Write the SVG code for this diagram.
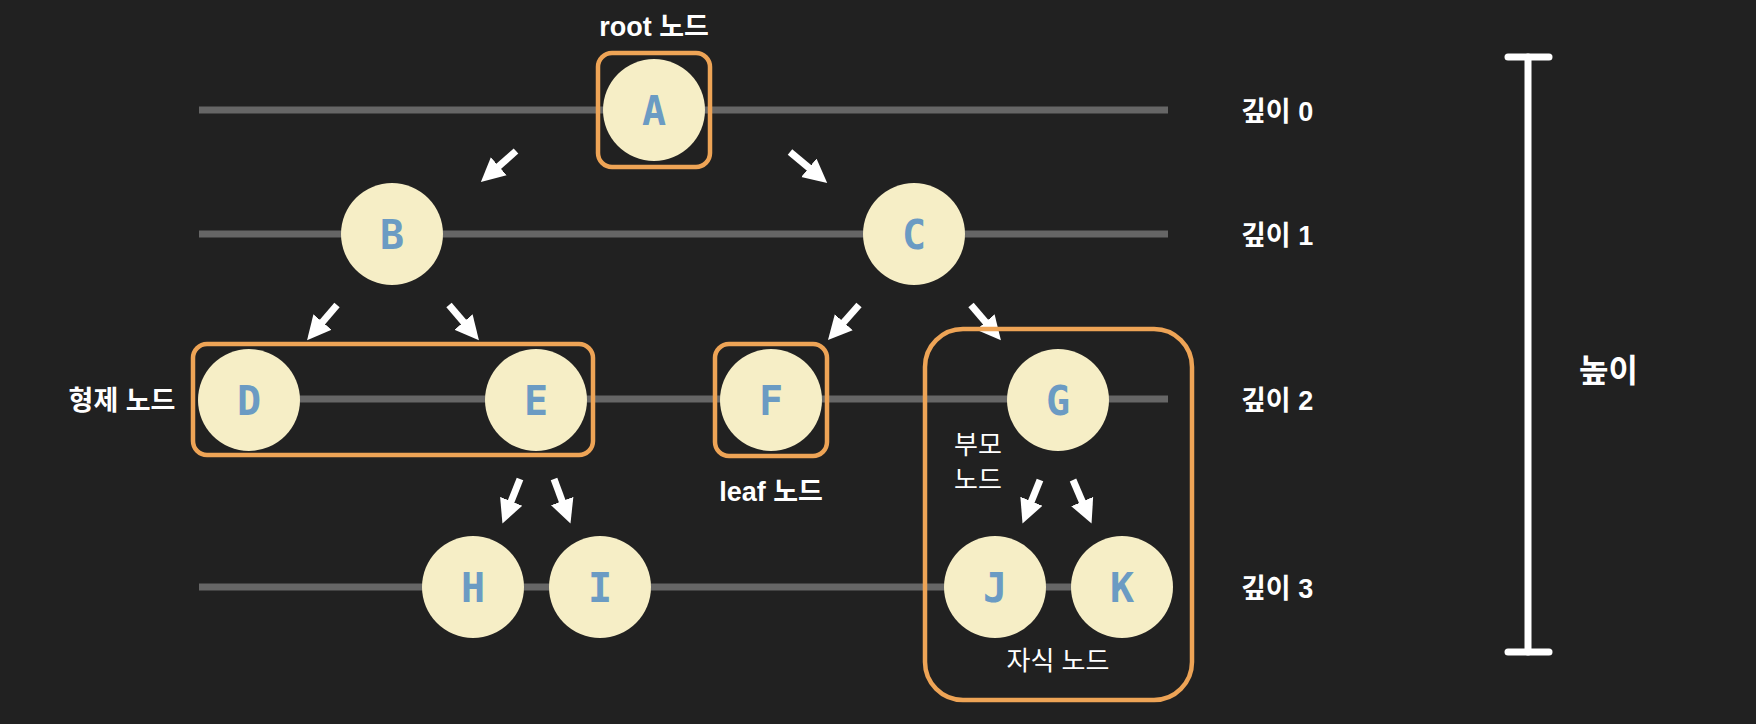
<svg xmlns="http://www.w3.org/2000/svg" width="1756" height="724" viewBox="0 0 1756 724">
<style>
.bg{fill:#212121}
.lvl{stroke:#666;stroke-width:7}
.nd{fill:#f6eec6}
.lt{font-family:"DejaVu Sans Mono","Liberation Mono",monospace;font-weight:bold;font-size:40px;fill:#6b9bc3;text-anchor:middle}
.box{fill:none;stroke:#eea456;stroke-width:4.5}
.lb{font-family:"Liberation Sans","Noto Sans CJK KR",sans-serif;font-weight:bold;font-size:27px;fill:#fff}
.lbn{font-family:"Liberation Sans","Noto Sans CJK KR",sans-serif;font-weight:normal;font-size:26px;fill:#fff}
.ar{stroke:#fff;stroke-width:7;marker-end:url(#ah)}
.bar{stroke:#fff;stroke-width:7;stroke-linecap:round}
</style>
<defs>
<marker id="ah" markerUnits="userSpaceOnUse" markerWidth="26" markerHeight="26" viewBox="0 -12 24 24" refX="4" refY="0" orient="auto">
<path d="M0,-11 L22,0 L0,11 z" fill="#fff"/>
</marker>
</defs>
<rect class="bg" x="0" y="0" width="1756" height="724"/>
<g id="levels">
<line class="lvl" x1="199" y1="110" x2="1168" y2="110"/>
<line class="lvl" x1="199" y1="234" x2="1168" y2="234"/>
<line class="lvl" x1="199" y1="399" x2="1168" y2="399"/>
<line class="lvl" x1="199" y1="587" x2="1168" y2="587"/>
</g>
<g id="connectors">
<line class="ar" x1="516" y1="151" x2="495.5" y2="169.1"/>
<line class="ar" x1="790" y1="152" x2="812.2" y2="170.5"/>
<line class="ar" x1="337" y1="305" x2="319.7" y2="325.3"/>
<line class="ar" x1="449" y1="305" x2="466.3" y2="325.3"/>
<line class="ar" x1="859" y1="305" x2="840.9" y2="325.5"/>
<line class="ar" x1="971" y1="305" x2="988.3" y2="325.3"/>
<line class="ar" x1="520" y1="479" x2="509.6" y2="505.3"/>
<line class="ar" x1="554" y1="479" x2="563.7" y2="505.1"/>
<line class="ar" x1="1040" y1="480" x2="1029.8" y2="505.3"/>
<line class="ar" x1="1073" y1="480" x2="1083.9" y2="505.5"/>
</g>
<g id="nodeA"><circle class="nd" cx="654" cy="110" r="51"/><text class="lt" x="654" y="125">A</text></g>
<g id="nodeB"><circle class="nd" cx="392" cy="234" r="51"/><text class="lt" x="392" y="249">B</text></g>
<g id="nodeC"><circle class="nd" cx="914" cy="234" r="51"/><text class="lt" x="914" y="249">C</text></g>
<g id="nodeD"><circle class="nd" cx="249" cy="400" r="51"/><text class="lt" x="249" y="415">D</text></g>
<g id="nodeE"><circle class="nd" cx="536" cy="400" r="51"/><text class="lt" x="536" y="415">E</text></g>
<g id="nodeF"><circle class="nd" cx="771" cy="400" r="51"/><text class="lt" x="771" y="415">F</text></g>
<g id="nodeG"><circle class="nd" cx="1058" cy="400" r="51"/><text class="lt" x="1058" y="415">G</text></g>
<g id="nodeH"><circle class="nd" cx="473" cy="587" r="51"/><text class="lt" x="473" y="602">H</text></g>
<g id="nodeI"><circle class="nd" cx="600" cy="587" r="51"/><text class="lt" x="600" y="602">I</text></g>
<g id="nodeJ"><circle class="nd" cx="995" cy="587" r="51"/><text class="lt" x="995" y="602">J</text></g>
<g id="nodeK"><circle class="nd" cx="1122" cy="587" r="51"/><text class="lt" x="1122" y="602">K</text></g>
<g id="groupRoot"><rect class="box" x="598" y="53" width="112" height="114" rx="14"/><text class="lb" x="654" y="36" text-anchor="middle">root 노드</text></g>
<g id="groupSibling"><rect class="box" x="193" y="344" width="400" height="111" rx="14"/><text class="lb" x="122" y="410" text-anchor="middle">형제 노드</text></g>
<g id="groupLeaf"><rect class="box" x="715" y="344" width="112" height="112" rx="14"/><text class="lb" x="771" y="501" text-anchor="middle">leaf 노드</text></g>
<g id="groupParentChild"><rect class="box" x="925" y="329" width="267" height="371" rx="38"/>
<text class="lbn" x="954" y="454">부모</text><text class="lbn" x="954" y="489">노드</text>
<text class="lbn" x="1058" y="670" text-anchor="middle">자식 노드</text></g>
<g id="depthLabels">
<text class="lb" x="1241" y="121">깊이 0</text>
<text class="lb" x="1241" y="245">깊이 1</text>
<text class="lb" x="1241" y="410">깊이 2</text>
<text class="lb" x="1241" y="598">깊이 3</text>
</g>
<g id="height">
<line class="bar" x1="1528" y1="57" x2="1528" y2="652"/>
<line class="bar" x1="1508" y1="57" x2="1549" y2="57"/>
<line class="bar" x1="1508" y1="652" x2="1549" y2="652"/>
<text class="lb" x="1579" y="382" font-size="32" style="font-size:32px">높이</text>
</g>
</svg>
